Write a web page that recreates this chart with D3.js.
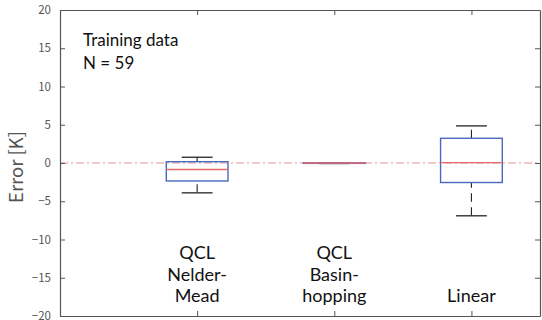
<!DOCTYPE html>
<html>
<head>
<meta charset="utf-8">
<script src="https://cdn.jsdelivr.net/npm/d3@7"></script>
<style>
  html, body { margin: 0; padding: 0; background: #fff; }
  svg { display: block; }
</style>
</head>
<body>
<svg id="chart" width="542" height="320"></svg>
<script>
// Box-plot statistics for each fitting method (error in K)
const methods = ["QCL Nelder-Mead", "QCL Basin-hopping", "Linear"];
const labelLines = [["QCL", "Nelder-", "Mead"], ["QCL", "Basin-", "hopping"], ["Linear"]];
const lowerWhisker = [-3.9, -0.06, -6.9];
const q1 = [-2.35, -0.03, -2.55];
const median = [-0.85, 0.0, 0.05];
const q3 = [0.17, 0.02, 3.23];
const upperWhisker = [0.75, 0.03, 4.85];
const yTicks = [-20, -15, -10, -5, 0, 5, 10, 15, 20];
const noteLines = ["Training data", "N = 59"];

const svg = d3.select("#chart");
const plotL = 60, plotR = 540, plotT = 10, plotB = 316;

const x = d3.scaleLinear().domain([0, 3.5]).range([plotL, plotR]);
const y = d3.scaleLinear().domain([-20, 20]).range([plotB, plotT]);

const axisColor = "#555";
const tickFont = "'Noto Sans CJK JP', 'DejaVu Sans', sans-serif";
const textFont = "Lato, 'Open Sans', sans-serif";

// Zero reference line (dash-dot)
svg.append("line")
  .attr("x1", x(0)).attr("x2", x(3.5))
  .attr("y1", y(0)).attr("y2", y(0))
  .attr("stroke", "#e88f8f").attr("stroke-width", 1.2)
  .attr("stroke-dasharray", "8,3,2,3");

// Axes: left with labels, right/top/bottom as box with inward ticks
const yAxisL = d3.axisLeft(y).tickValues(yTicks).tickSizeInner(-5).tickSizeOuter(0).tickPadding(9)
  .tickFormat(d => d < 0 ? "\u2212" + Math.abs(d) : String(d));
const gL = svg.append("g").attr("transform", `translate(${plotL},0)`).call(yAxisL);
const yAxisR = d3.axisRight(y).tickValues(yTicks).tickSizeInner(-5).tickSizeOuter(0).tickFormat("");
const gR = svg.append("g").attr("transform", `translate(${plotR},0)`).call(yAxisR);
const xAxisB = d3.axisBottom(x).tickValues([1, 2, 3]).tickSizeInner(-5).tickSizeOuter(0).tickFormat("");
const gB = svg.append("g").attr("transform", `translate(0,${plotB})`).call(xAxisB);
const xAxisT = d3.axisTop(x).tickValues([1, 2, 3]).tickSizeInner(-5).tickSizeOuter(0).tickFormat("");
const gT = svg.append("g").attr("transform", `translate(0,${plotT})`).call(xAxisT);

[gL, gR, gB, gT].forEach(g => {
  g.select(".domain").attr("stroke", axisColor).attr("stroke-width", 1.2);
  g.selectAll(".tick line").attr("stroke", axisColor).attr("stroke-width", 1);
});
gL.selectAll(".tick text")
  .attr("fill", "#555").attr("font-size", 11.5).attr("font-family", tickFont);

// Y axis title
svg.append("text")
  .attr("transform", `translate(23,${y(0) + 4}) rotate(-90)`)
  .attr("text-anchor", "middle")
  .attr("fill", "#555")
  .attr("font-family", tickFont)
  .attr("font-size", 18.5)
  .text("Error [K]");

// Boxes
const boxW = 0.45, capW = 0.225;
const data = methods.map((m, i) => ({
  i: i + 1, lw: lowerWhisker[i], q1: q1[i], med: median[i], q3: q3[i], uw: upperWhisker[i]
}));

const g = svg.append("g");
data.forEach(d => {
  const cx = x(d.i);
  // whiskers, drawn from lower value to higher value
  g.append("line").attr("x1", cx).attr("x2", cx)
    .attr("y1", y(d.lw)).attr("y2", y(d.q1))
    .attr("stroke", "#222").attr("stroke-width", 1.1).attr("stroke-dasharray", "8.5,5.5");
  g.append("line").attr("x1", cx).attr("x2", cx)
    .attr("y1", y(d.q3)).attr("y2", y(d.uw))
    .attr("stroke", "#222").attr("stroke-width", 1.1).attr("stroke-dasharray", "8.5,5.5");
  // caps
  [d.lw, d.uw].forEach(v => {
    g.append("line")
      .attr("x1", x(d.i - capW / 2)).attr("x2", x(d.i + capW / 2))
      .attr("y1", y(v)).attr("y2", y(v))
      .attr("stroke", "#333").attr("stroke-width", 1.4);
  });
  // box
  g.append("rect")
    .attr("x", x(d.i - boxW / 2)).attr("width", x(d.i + boxW / 2) - x(d.i - boxW / 2))
    .attr("y", y(d.q3)).attr("height", Math.max(0.5, y(d.q1) - y(d.q3)))
    .attr("fill", "none").attr("stroke", "#4a68c0").attr("stroke-width", 1.4);
  // median
  g.append("line")
    .attr("x1", x(d.i - boxW / 2)).attr("x2", x(d.i + boxW / 2))
    .attr("y1", y(d.med)).attr("y2", y(d.med))
    .attr("stroke", "#e46a6a").attr("stroke-width", 1.4);
});

// Category labels, bottom aligned
const lineH = 21.5, lastBaseline = 302;
labelLines.forEach((lines, i) => {
  const t = svg.append("text")
    .attr("text-anchor", "middle")
    .attr("font-family", textFont)
    .attr("font-size", 18)
    .attr("fill", "#111");
  lines.forEach((s, k) => {
    t.append("tspan")
      .attr("x", x(i + 1))
      .attr("y", lastBaseline - (lines.length - 1 - k) * lineH)
      .text(s);
  });
});

// Annotation
const note = svg.append("text")
  .attr("font-family", textFont)
  .attr("font-size", 17)
  .attr("fill", "#111");
noteLines.forEach((s, k) => {
  note.append("tspan").attr("x", 83).attr("y", 46 + k * 23).text(s);
});
</script>
</body>
</html>
